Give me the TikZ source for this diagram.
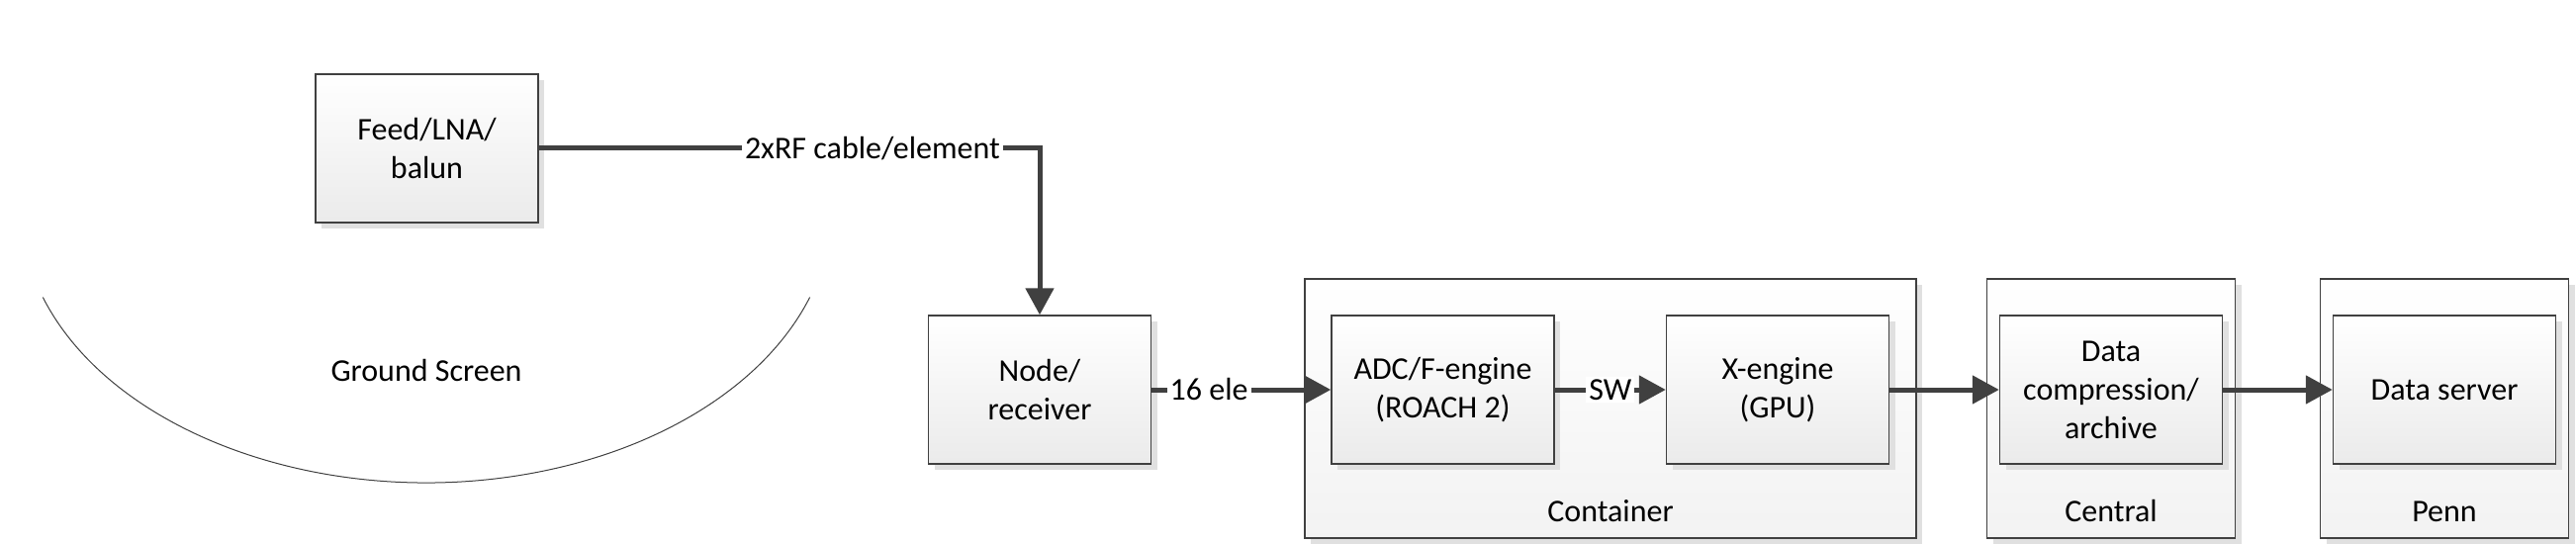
\documentclass[tikz,border=0pt]{standalone}
\usepackage{fontspec}
\setmainfont{Carlito}
\usetikzlibrary{arrows.meta,shadows}
\definecolor{ln}{HTML}{404040}
\begin{document}
\begin{tikzpicture}[x=0.5pt,y=-0.5pt,
  font=\fontsize{16}{19.5}\selectfont,
  shad/.style={drop shadow={shadow xshift=3pt, shadow yshift=-3pt, fill=black!12, opacity=1}},
  box/.style={draw=ln, line width=0.7pt, top color=white, bottom color=black!8, minimum width=112.5pt, minimum height=75pt, align=center, inner sep=0pt, shad},
  grp/.style={draw=ln, line width=0.7pt, top color=white, bottom color=black!5, minimum height=131pt, inner sep=0pt, shad},
  conn/.style={draw=ln, line width=2.5pt, -{Triangle[length=13.5pt,width=14pt]}},
  lbl/.style={fill=white, inner sep=1.5pt, text=black}
]
\useasboundingbox (0,0) rectangle (2604,551);

% ground screen
\draw[ln, line width=0.5pt] (43.3,300.5) arc[start angle=199, end angle=341, x radius=205pt, y radius=139pt];
\node (gs) at (431,375) {Ground Screen};

% groups
\node[grp, minimum width=309pt] (cont) at (1628,413) {};
\node[grp, minimum width=125.5pt] (cent) at (2134,413) {};
\node[grp, minimum width=125.5pt] (penn) at (2471,413) {};
\node (contl) at (1628,517) {Container};
\node (centl) at (2134,517) {Central};
\node (pennl) at (2471,517) {Penn};

% boxes
\node[box] (feed) at (431.5,150) {Feed/LNA/\\balun};
\node[box] (rx) at (1051,394) {Node/\\receiver};
\node[box] (adc) at (1458.5,394) {ADC/F-engine\\(ROACH 2)};
\node[box] (xe) at (1797,394) {X-engine\\(GPU)};
\node[box] (dc) at (2134,394) {Data\\compression/\\archive};
\node[box] (ds) at (2471,394) {Data server};

% connectors
\draw[conn] (feed.east) -| node[lbl, pos=0.333] {2xRF cable/element} (rx.north);
\draw[conn] (rx.east) -- node[lbl, pos=0.32] {16 ele} (adc.west);
\draw[conn] (adc.east) -- node[lbl, pos=0.5] {SW} (xe.west);
\draw[conn] (xe.east) -- (dc.west);
\draw[conn] (dc.east) -- (ds.west);
\end{tikzpicture}
\end{document}
